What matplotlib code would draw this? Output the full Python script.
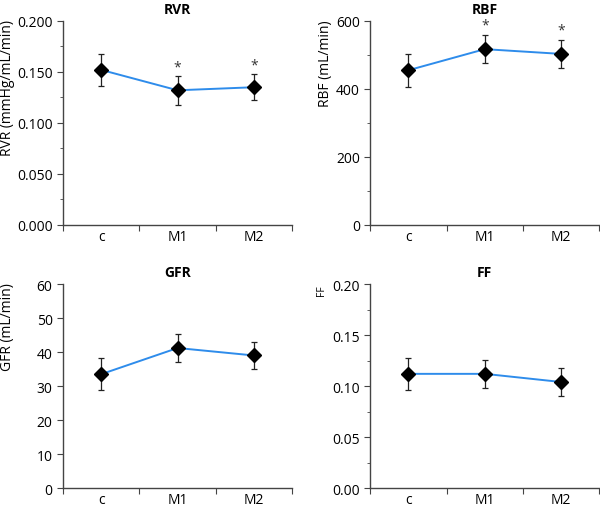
import matplotlib
matplotlib.use('Agg')
import matplotlib.pyplot as plt
from matplotlib.ticker import MultipleLocator, FormatStrFormatter

plt.rcParams['font.family'] = ['Open Sans', 'DejaVu Sans']

# groups
groups = ['c', 'M1', 'M2']

# RVR (mmHg/mL/min)
rvr_mean = [0.152, 0.132, 0.135]
rvr_err = [0.016, 0.014, 0.013]
rvr_sig = [False, True, True]

# RBF (mL/min)
rbf_mean = [455, 517, 503]
rbf_err = [48, 42, 41]
rbf_sig = [False, True, True]

# GFR (mL/min)
gfr_mean = [33.5, 41.2, 39.0]
gfr_err = [4.7, 4.2, 4.0]

# FF
ff_mean = [0.112, 0.112, 0.104]
ff_err = [0.016, 0.014, 0.014]

panels = [
    # title, mean, err, sig, ymax, major, minor, fmt, ylabel, label size, star offset
    ('RVR', rvr_mean, rvr_err, rvr_sig, 0.2, 0.05, 0.025, '%.3f', 'RVR (mmHg/mL/min)', 10, 0.009),
    ('RBF', rbf_mean, rbf_err, rbf_sig, 600, 200, 100, '%d', 'RBF (mL/min)', 10, 28),
    ('GFR', gfr_mean, gfr_err, None, 60, 10, None, '%d', 'GFR (mL/min)', 10, 0),
    ('FF', ff_mean, ff_err, None, 0.2, 0.05, 0.025, '%.2f', 'FF', 7.5, 0),
]

positions = [
    [0.105, 0.557, 0.382, 0.400],
    [0.617, 0.557, 0.382, 0.400],
    [0.105, 0.041, 0.382, 0.400],
    [0.617, 0.041, 0.382, 0.400],
]
label_x = [-0.21, -0.162, -0.21, -0.19]

fig = plt.figure(figsize=(6.0, 5.1), dpi=100)
blue = '#2E8CEB'
axcol = '#444444'

for k, (title, mean, err, sig, ymax, major, minor, fmt, ylabel, lsize, soff) in enumerate(panels):
    ax = fig.add_axes(positions[k])
    x = list(range(len(groups)))
    ax.plot(x, mean, color=blue, lw=1.4, zorder=2)
    ax.errorbar(x, mean, yerr=err, fmt='none', ecolor='#222222', elinewidth=0.9,
                capsize=2.5, capthick=0.9, zorder=3)
    ax.plot(x, mean, 'D', color='black', markersize=7, zorder=4)
    if sig is not None:
        for xi, (m, e, s) in enumerate(zip(mean, err, sig)):
            if s:
                ax.text(xi, m + e + soff, '*', ha='center', va='center', fontsize=10, color='#333333')
    ax.set_xlim(-0.5, 2.5)
    ax.set_ylim(0, ymax)
    ax.set_xticks([-0.5, 0.5, 1.5, 2.5])
    ax.set_xticklabels([])
    ax.set_xticks(x, minor=True)
    ax.set_xticklabels(groups, minor=True, fontsize=10)
    ax.tick_params(axis='x', which='minor', length=0, pad=3)
    ax.tick_params(axis='x', which='major', length=4, direction='out', color=axcol)
    ax.yaxis.set_major_locator(MultipleLocator(major))
    if minor:
        ax.yaxis.set_minor_locator(MultipleLocator(minor))
    ax.yaxis.set_major_formatter(FormatStrFormatter(fmt))
    ax.tick_params(axis='y', which='major', length=4, direction='out', labelsize=10, color=axcol)
    ax.tick_params(axis='y', which='minor', length=2, direction='out', color=axcol)
    for sp in ['top', 'right']:
        ax.spines[sp].set_visible(False)
    for sp in ['left', 'bottom']:
        ax.spines[sp].set_color(axcol)
        ax.spines[sp].set_linewidth(1.0)
    ax.set_title(title, fontsize=10, fontweight='bold', pad=6)
    ax.set_ylabel(ylabel, fontsize=lsize, loc='top')
    ax.yaxis.set_label_coords(label_x[k], 1.01 if k != 3 else 1.0)

fig.savefig('out.png', dpi=100)
